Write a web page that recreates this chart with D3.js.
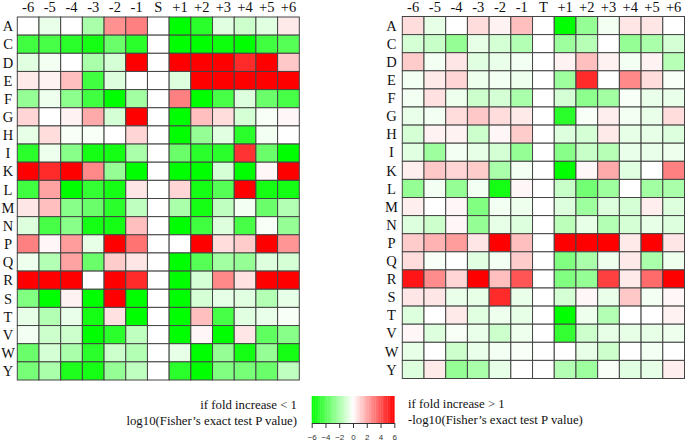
<!DOCTYPE html>
<html>
<head>
<meta charset="utf-8">
<script src="https://cdn.jsdelivr.net/npm/d3@7"></script>
<style>
  html, body { margin: 0; padding: 0; background: #fff; }
  svg { display: block; }
</style>
</head>
<body>
<svg id="chart" width="685" height="442"></svg>
<script>
// ---------------- DATA ----------------
const rowLabels = ["A","C","D","E","F","G","H","I","K","L","M","N","P","Q","R","S","T","V","W","Y"];
const leftCols  = ["-6","-5","-4","-3","-2","-1","S","+1","+2","+3","+4","+5","+6"];
const rightCols = ["-6","-5","-4","-3","-2","-1","T","+1","+2","+3","+4","+5","+6"];

// signed score: negative = log10(P) (fold < 1, green), positive = -log10(P) (fold > 1, red)
const leftValues = [
  /*A*/ [ 0.0,-0.5, 0.0,-2.0, 2.6, 3.0, 0,-6.0,-5.0,-0.7,-1.2,-0.7, 0.5],
  /*C*/ [-4.5,-4.3,-5.0,-5.5,-3.5,-5.0, 0,-6.0,-6.0,-5.7,-6.0,-4.5,-4.0],
  /*D*/ [-0.7,-0.3, 0.0,-2.0,-1.0, 6.0, 0, 6.0, 6.0, 6.0, 5.0, 6.0, 1.3],
  /*E*/ [ 0.5, 0.3, 1.5,-4.5,-0.8, 0.0, 0,-0.8, 6.0, 6.0, 6.0, 6.0, 6.0],
  /*F*/ [-2.5,-0.4,-2.7,-4.5,-6.0,-2.2, 0, 3.0,-6.0,-4.3,-0.8,-3.5,-4.3],
  /*G*/ [ 1.0, 0.0, 0.3, 2.0,-1.0, 6.0, 0,-6.0, 1.5, 0.8,-1.0,-0.2, 0.2],
  /*H*/ [-0.6, 0.8,-0.2,-0.2, 0.0, 1.0, 0,-6.0,-2.5,-0.7,-5.0,-0.3, 0.0],
  /*I*/ [-5.0,-0.4,-2.8,-5.5,-5.5,-2.0, 0,-3.5,-5.0,-5.0, 4.8,-3.5,-6.0],
  /*K*/ [ 6.0, 5.0, 6.0, 2.8,-2.5,-6.0, 0,-6.0,-6.0,-1.0,-6.0, 0.2, 6.0],
  /*L*/ [-4.5, 2.2,-6.0,-4.8,-5.5, 0.6, 0, 1.0,-5.5,-4.0, 6.0,-5.5,-5.5],
  /*M*/ [ 0.6, 1.5,-2.8,-3.5,-5.0,-1.5, 0,-2.0,-5.5,-1.5,-0.3,-3.5,-1.8],
  /*N*/ [-0.8,-4.3,-2.8,-5.5,-5.5, 1.5, 0,-6.0,-4.5,-0.8,-4.3,-0.2,-2.5],
  /*P*/ [ 3.0, 0.2, 2.3,-0.6, 6.0, 3.3, 0, 0.0, 6.0, 0.8, 1.2, 6.0, 2.5],
  /*Q*/ [-0.4,-1.8, 2.2,-3.5, 1.2, 0.6, 0,-6.0,-4.0,-2.2,-2.5,-0.8,-1.0],
  /*R*/ [ 6.0, 6.0, 6.0, 0.0, 6.0, 5.0, 0,-6.0,-1.0, 2.8, 0.7, 6.0, 6.0],
  /*S*/ [-3.0,-6.0, 0.3,-6.0, 6.0,-6.0, 0,-6.0,-1.0,-0.6,-0.7,-1.8,-0.6],
  /*T*/ [-0.6,-1.8,-0.5,-5.5, 0.7,-6.0, 0,-6.0, 1.5,-4.3,-0.7,-0.5,-0.2],
  /*V*/ [-0.3,-1.2,-1.2,-6.0,-5.0,-1.5, 0,-6.0, 0.2,-6.0, 0.6,-3.8,-2.8],
  /*W*/ [-3.5,-1.0,-2.0,-5.0,-1.2,-1.8, 0,-0.6,-6.0,-2.5,-5.5,-2.5,-5.5],
  /*Y*/ [-3.2,-2.0,-5.3,-5.5,-2.5,-1.5, 0,-5.0,-6.0,-3.0,-3.2,-3.5,-1.5]
];

const rightValues = [
  /*A*/ [ 0.8,-0.6, 0.0, 0.8, 0.3, 1.5, 0,-6.0,-2.5,-0.3, 0.6, 0.6, 0.0],
  /*C*/ [-1.0,-1.3,-2.5,-0.6,-1.0,-1.8, 0,-2.3,-1.7, 0.0,-2.5,-2.0,-1.0],
  /*D*/ [ 1.2,-0.3, 0.6,-0.7,-0.5,-0.3, 0, 0.3, 1.5, 0.3,-0.3, 0.3,-1.7],
  /*E*/ [-0.3, 0.5, 1.0,-0.4,-0.3,-0.4, 0,-2.3, 5.0, 0.0, 2.8, 0.8,-0.2],
  /*F*/ [-0.3, 0.7,-0.4,-1.2,-1.0,-2.0, 0,-1.0,-2.7,-2.2,-0.2,-0.5,-0.5],
  /*G*/ [-0.5,-0.3, 0.8, 1.3, 0.8, 0.5, 0,-5.0,-0.2, 0.4,-0.3,-0.5, 0.8],
  /*H*/ [-1.0, 0.3, 0.3,-1.2, 0.2, 1.2, 0,-0.8,-1.0, 0.5,-0.6,-0.6,-0.8],
  /*I*/ [-0.7,-2.3,-0.3,-0.6,-1.0,-2.5, 0,-2.8,-1.3,-1.7,-0.5,-0.5,-0.4],
  /*K*/ [ 0.4, 1.3, 1.0, 1.2,-2.0,-0.3, 0,-6.0, 0.2, 2.0,-0.7, 0.0, 3.0],
  /*L*/ [-2.5,-0.3,-2.5,-0.3,-5.5, 0.2, 0,-1.3,-3.3,-2.3, 0.0,-2.2,-2.0],
  /*M*/ [ 0.4, 0.0, 0.2,-3.0,-0.3,-0.4, 0,-0.8,-2.3,-0.8,-1.0, 0.4,-0.8],
  /*N*/ [-0.8,-1.2, 0.2,-2.5,-0.6,-0.8, 0,-1.6,-0.6,-1.8,-1.0,-0.6,-0.8],
  /*P*/ [ 1.2, 1.8, 2.3, 0.6, 6.0, 1.5, 0, 6.0, 6.0, 6.0, 0.5, 6.0, 0.6],
  /*Q*/ [ 0.8,-0.2, 0.0,-0.7,-0.3, 1.2, 0,-3.0,-2.0,-0.4, 0.5,-2.0,-0.4],
  /*R*/ [ 5.5, 2.7, 1.0, 6.0, 1.5, 4.0, 0,-3.0,-2.5, 4.5, 0.5, 3.5, 6.0],
  /*S*/ [ 0.6, 0.6,-0.5,-0.6, 5.0,-0.5, 0,-1.0, 0.2,-0.5, 1.3,-0.3, 0.2],
  /*T*/ [-0.8, 0.0, 0.5,-0.7,-0.4,-0.6, 0,-6.0,-0.4,-1.8, 0.0, 0.0, 0.3],
  /*V*/ [ 0.2,-0.8,-0.2,-0.5,-1.2,-0.4, 0,-4.8,-1.2,-0.6,-0.6,-0.6,-0.4],
  /*W*/ [-0.6, 0.0,-1.2,-0.5,-0.3,-0.2, 0, 0.0,-0.6,-1.2, 0.0,-0.3, 0.0],
  /*Y*/ [-0.8, 0.5,-2.5,-2.0,-0.6, 0.0, 0,-1.8,-2.3,-0.2,-0.7,-0.6, 0.4]
];

const legendTicks = [-6,-4,-2,0,2,4,6];
const legendTextLeft  = ["if fold increase < 1", "log10(Fisher’s exact test P value)"];
const legendTextRight = ["if fold increase > 1", "-log10(Fisher’s exact test P value)"];

// ---------------- DRAW ----------------
const svg = d3.select("#chart");
const serif = "'Liberation Serif', 'Times New Roman', serif";

const color = d3.scaleLinear()
  .domain([-6, 0, 6])
  .range(["#00ff00", "#ffffff", "#ff0000"])
  .clamp(true);

function heatmap(cols, values, x0, x1, y0, y1, rowLabelX) {
  const x = d3.scaleBand().domain(cols).range([x0, x1]);
  const y = d3.scaleBand().domain(rowLabels).range([y0, y1]);
  const g = svg.append("g");

  const cells = [];
  rowLabels.forEach((r, i) => cols.forEach((c, j) => cells.push({ r, c, v: values[i][j] })));

  g.selectAll("rect.cell").data(cells).join("rect")
    .attr("class", "cell")
    .attr("x", d => x(d.c))
    .attr("y", d => y(d.r))
    .attr("width", x.bandwidth())
    .attr("height", y.bandwidth())
    .attr("fill", d => color(d.v))
    .attr("stroke", "#444")
    .attr("stroke-width", 1);

  g.selectAll("text.col").data(cols).join("text")
    .attr("class", "col")
    .attr("x", d => x(d) + x.bandwidth() / 2)
    .attr("y", 11.5)
    .attr("text-anchor", "middle")
    .attr("font-family", serif)
    .attr("font-size", 14.5)
    .attr("fill", "#111")
    .text(d => d);

  g.selectAll("text.row").data(rowLabels).join("text")
    .attr("class", "row")
    .attr("x", rowLabelX)
    .attr("y", d => y(d) + y.bandwidth() / 2)
    .attr("dy", "0.36em")
    .attr("text-anchor", "middle")
    .attr("font-family", serif)
    .attr("font-size", 14.5)
    .attr("fill", "#111")
    .text(d => d);
}

heatmap(leftCols, leftValues, 17.3, 299.3, 17, 380, 8);
heatmap(rightCols, rightValues, 402.3, 684.5, 16.5, 378.5, 391.5);

// ---------------- LEGEND ----------------
const lx = d3.scaleLinear().domain([-6, 6]).range([311.7, 394.3]);
const steps = d3.range(-6, 6, 0.25);
const lg = svg.append("g");
lg.selectAll("rect").data(steps).join("rect")
  .attr("x", d => lx(d))
  .attr("y", 396)
  .attr("width", lx(0.25) - lx(0) + 0.3)
  .attr("height", 27)
  .attr("fill", d => color(d + 0.125));

const axis = d3.axisBottom(lx)
  .tickValues(legendTicks)
  .tickSize(5)
  .tickSizeOuter(0)
  .tickPadding(6)
  .tickFormat(d => d3.format("d")(d).replace("-", "\u2212"));
const ag = svg.append("g").attr("transform", "translate(0,423)").call(axis);
ag.selectAll("path, line").attr("stroke", "#333");
ag.selectAll("text")
  .attr("font-family", "'Liberation Sans', Arial, sans-serif")
  .attr("font-size", 8)
  .attr("fill", "#333");

svg.append("g").selectAll("text").data(legendTextLeft).join("text")
  .attr("x", 297)
  .attr("y", (d, i) => 409 + i * 16)
  .attr("text-anchor", "end")
  .attr("font-family", serif)
  .attr("font-size", 12.8)
  .attr("fill", "#111")
  .text(d => d);

svg.append("g").selectAll("text").data(legendTextRight).join("text")
  .attr("x", 408)
  .attr("y", (d, i) => 408 + i * 16)
  .attr("text-anchor", "start")
  .attr("font-family", serif)
  .attr("font-size", 12.8)
  .attr("fill", "#111")
  .text(d => d);
</script>
</body>
</html>
